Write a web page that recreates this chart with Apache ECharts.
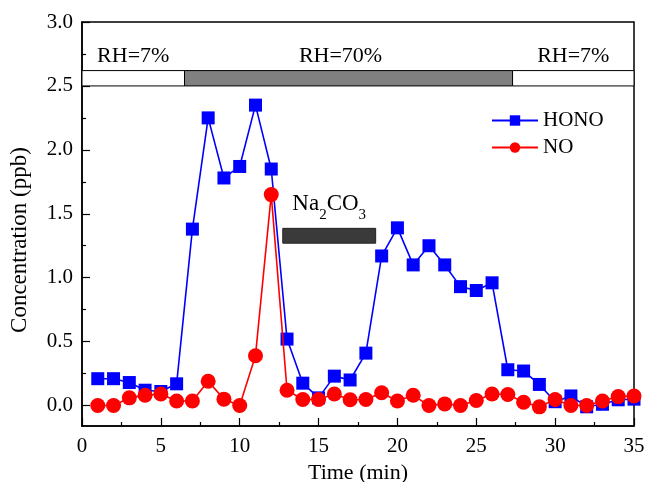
<!DOCTYPE html>
<html>
<head>
<meta charset="utf-8">
<script src="https://cdn.jsdelivr.net/npm/echarts@6/dist/echarts.min.js"></script>
<style>html,body{margin:0;padding:0;background:#fff;}#c{width:648px;height:482px;}</style>
</head>
<body>
<div id="c"></div>
<script>
// ---- data ----
var timeMin = [1,2,3,4,5,6,7,8,9,10,11,12,13,14,15,16,17,18,19,20,21,22,23,24,25,26,27,28,29,30,31,32,33,34,35];
var hono = [0.21,0.21,0.18,0.12,0.11,0.17,1.38,2.25,1.78,1.87,2.35,1.85,0.52,0.175,0.06,0.23,0.20,0.41,1.17,1.39,1.10,1.25,1.10,0.93,0.90,0.96,0.28,0.27,0.165,0.03,0.075,-0.01,0.01,0.045,0.05];
var no = [0.0,0.0,0.06,0.08,0.09,0.035,0.035,0.19,0.05,0.0,0.39,1.65,0.12,0.047,0.047,0.09,0.045,0.047,0.10,0.035,0.08,0.0,0.013,0.0,0.04,0.09,0.086,0.026,-0.01,0.047,0.0,0.0,0.035,0.07,0.075];
var yMajorTicks = [0,0.5,1.0,1.5,2.0,2.5,3.0];
var yMinorTicks = [0.25,0.75,1.25,1.75,2.25,2.75];
var rhPeriods = [
  {label:'RH=7%', start:0, end:6.5, humid:false},
  {label:'RH=70%', start:6.5, end:27.3, humid:true},
  {label:'RH=7%', start:27.3, end:35, humid:false}
];
var rhBand = [2.5, 2.62];
var na2co3Period = {start:12.73, end:18.62, y0:1.27, y1:1.386};

var serif = "'Liberation Serif','Times New Roman',serif";
var chart = echarts.init(document.getElementById('c'), null, {renderer:'canvas'});

var rhAreas = rhPeriods.map(function(p){
  return [
    {xAxis:p.start, yAxis:rhBand[0],
     itemStyle:{color:p.humid?'#808080':'#ffffff', borderColor:'#000', borderWidth:1, opacity:1},
     label:{show:true, position:'top', distance:3, formatter:p.label, color:'#000', fontSize:22, fontFamily:serif,
            offset:[p.humid?-8:0,0]}},
    {xAxis:p.end, yAxis:rhBand[1]}
  ];
});
rhAreas.push([
  {xAxis:na2co3Period.start, yAxis:na2co3Period.y0,
   itemStyle:{color:'#3a3a3a', borderColor:'#222', borderWidth:1, opacity:1},
   label:{show:true, position:'top', distance:5, formatter:'{m|Na}{s|2}{m|CO}{s|3}', color:'#000',
     rich:{m:{fontSize:23, fontFamily:serif, color:'#000', padding:[0,0,7,0], verticalAlign:'bottom'},
           s:{fontSize:15, fontFamily:serif, color:'#000', verticalAlign:'bottom'}}}},
  {xAxis:na2co3Period.end, yAxis:na2co3Period.y1}
]);

chart.setOption({
  backgroundColor:'#fff',
  animation:false,
  grid:{left:82, right:14, top:22, bottom:56, show:true, borderColor:'#000', borderWidth:1.5,
        backgroundColor:'transparent', containLabel:false, outerBoundsMode:'none'},
  legend:{
    data:['HONO','NO'], orient:'vertical', left:486, top:105,
    itemWidth:46, itemHeight:13, itemGap:6,
    textStyle:{fontSize:21, fontFamily:serif, color:'#000'}
  },
  xAxis:{
    type:'value', min:0, max:35, interval:5,
    name:'Time (min)', nameLocation:'middle', nameGap:30,
    nameTextStyle:{fontSize:22, fontFamily:serif, color:'#000'},
    axisLine:{show:true, onZero:false, lineStyle:{color:'#000', width:1.5}},
    axisTick:{show:true, inside:true, length:8, lineStyle:{color:'#000', width:1.2}},
    minorTick:{show:true, splitNumber:2, length:4, lineStyle:{color:'#000', width:1.2}},
    axisLabel:{fontSize:21, fontFamily:serif, color:'#000', margin:10},
    splitLine:{show:false}, minorSplitLine:{show:false}
  },
  yAxis:[{
    type:'value', min:-0.16, max:3.0, position:'left',
    name:'Concentration (ppb)', nameLocation:'middle', nameGap:51,
    nameTextStyle:{fontSize:23, fontFamily:serif, color:'#000', padding:[0,32,0,0]},
    axisLine:{show:true, onZero:false, lineStyle:{color:'#000', width:1.5}},
    axisTick:{show:true, inside:true, length:8, customValues:yMajorTicks, lineStyle:{color:'#000', width:1.2}},
    axisLabel:{customValues:yMajorTicks, fontSize:21, fontFamily:serif, color:'#000', margin:9,
      formatter:function(v){return Number(v).toFixed(1);}},
    splitLine:{show:false}
  },{
    type:'value', min:-0.16, max:3.0, position:'left', offset:0,
    axisLine:{show:false, onZero:false},
    axisTick:{show:true, inside:true, length:4, customValues:yMinorTicks, lineStyle:{color:'#000', width:1.2}},
    axisLabel:{show:false},
    splitLine:{show:false}
  }],
  series:[{
    name:'HONO', type:'line', yAxisIndex:0,
    data:timeMin.map(function(t,i){return [t,hono[i]];}),
    symbol:'rect', symbolSize:13, itemStyle:{color:'#0000ff'},
    lineStyle:{color:'#0000ff', width:1.6}, z:3,
    markArea:{silent:true, data:rhAreas}
  },{
    name:'NO', type:'line', yAxisIndex:0,
    data:timeMin.map(function(t,i){return [t,no[i]];}),
    symbol:'circle', symbolSize:15, itemStyle:{color:'#ff0000'},
    lineStyle:{color:'#ff0000', width:1.6}, z:4
  }]
});
</script>
</body>
</html>
